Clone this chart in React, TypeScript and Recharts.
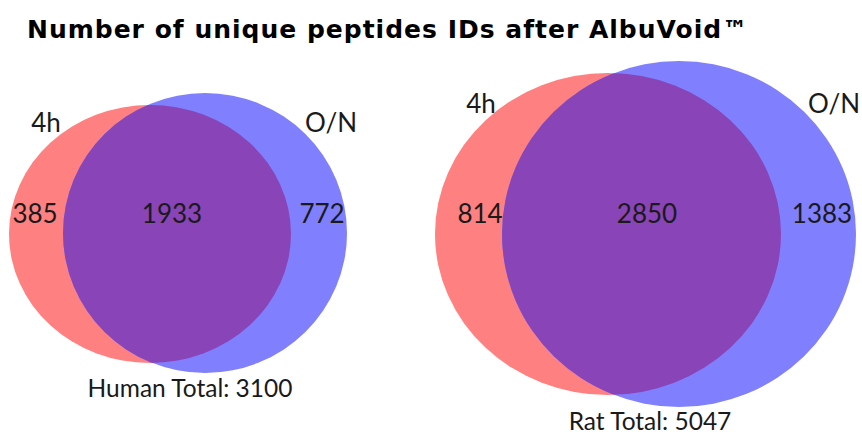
import React from "react";
import { ScatterChart, Scatter, XAxis, YAxis } from "recharts";

// data
const panels = ["Human", "Rat"];
const setNames = ["4h", "O/N"];
const only4h = [385, 814];
const shared = [1933, 2850];
const onlyON = [772, 1383];
const totals = [3100, 5047];

// layout (axes map 1 unit = 1 px)
const redShapes = [
  { x: 150, y: 234, rx: 141, ry: 129 },
  { x: 608, y: 234, rx: 173, ry: 161 },
];
const blueShapes = [
  { x: 205, y: 233, rx: 142, ry: 140 },
  { x: 679, y: 234, rx: 177, ry: 173 },
];
const nameSpots = [
  [{ x: 46, y: 132 }, { x: 331, y: 132 }],
  [{ x: 481, y: 113 }, { x: 834, y: 113 }],
];
const countSpots = [
  [{ x: 35, y: 223 }, { x: 172, y: 223 }, { x: 322, y: 223 }],
  [{ x: 480, y: 223 }, { x: 647, y: 223 }, { x: 822, y: 223 }],
];
const totalSpots = [
  { x: 190, y: 397 },
  { x: 650, y: 430 },
];

const RED = "#ff8080";
const BLUE = "#8080ff";
const PURPLE = "#8944b7";

const redData = redShapes.map((s, i) => ({ ...s, panel: panels[i] }));
const blueData = blueShapes.map((s, i) => ({ ...s, panel: panels[i] }));
const overlapData = redShapes.map((s, i) => ({
  ...s,
  panel: panels[i],
  bdx: blueShapes[i].x - s.x,
  bdy: blueShapes[i].y - s.y,
  brx: blueShapes[i].rx,
  bry: blueShapes[i].ry,
}));

const labelData: any[] = [];
panels.forEach((p, i) => {
  setNames.forEach((n, j) => {
    labelData.push({ ...nameSpots[i][j], text: n, size: 26 });
  });
  [only4h[i], shared[i], onlyON[i]].forEach((v, j) => {
    labelData.push({ ...countSpots[i][j], text: String(v), size: 26 });
  });
  labelData.push({
    ...totalSpots[i],
    text: `${p} Total: ${totals[i]}`,
    size: 24.5,
  });
});

const ellipseShape = (fill: string) => (props: any) => {
  const { cx, cy, payload } = props;
  return <ellipse cx={cx} cy={cy} rx={payload.rx} ry={payload.ry} fill={fill} />;
};

const OverlapShape = (props: any) => {
  const { cx, cy, payload } = props;
  const id = `clip-${payload.panel}`;
  return (
    <g>
      <defs>
        <clipPath id={id}>
          <ellipse
            cx={cx + payload.bdx}
            cy={cy + payload.bdy}
            rx={payload.brx}
            ry={payload.bry}
          />
        </clipPath>
      </defs>
      <ellipse
        cx={cx}
        cy={cy}
        rx={payload.rx}
        ry={payload.ry}
        fill={PURPLE}
        clipPath={`url(#${id})`}
      />
    </g>
  );
};

const TextShape = (props: any) => {
  const { cx, cy, payload } = props;
  return (
    <text
      x={cx}
      y={cy}
      textAnchor="middle"
      fontFamily="Lato, 'Open Sans', sans-serif"
      fontSize={payload.size}
      fill="#1a1a1a"
    >
      {payload.text}
    </text>
  );
};

export default function App() {
  return (
    <div
      style={{
        position: "absolute",
        left: 0,
        top: 0,
        width: 862,
        height: 435,
        background: "#fff",
      }}
    >
      <div
        style={{
          position: "absolute",
          left: 27,
          top: 15,
          fontFamily: "'DejaVu Sans', Verdana, sans-serif",
          fontWeight: "bold",
          fontSize: 25,
          letterSpacing: "1px",
          lineHeight: "30px",
          color: "#000",
          whiteSpace: "nowrap",
        }}
      >
        Number of unique peptides IDs after AlbuVoid™
      </div>
      <ScatterChart
        width={862}
        height={435}
        margin={{ top: 0, right: 0, bottom: 0, left: 0 }}
      >
        <XAxis type="number" dataKey="x" domain={[0, 862]} allowDataOverflow hide />
        <YAxis type="number" dataKey="y" domain={[0, 435]} allowDataOverflow reversed hide />
        <Scatter data={redData} shape={ellipseShape(RED)} isAnimationActive={false} />
        <Scatter data={blueData} shape={ellipseShape(BLUE)} isAnimationActive={false} />
        <Scatter data={overlapData} shape={OverlapShape} isAnimationActive={false} />
        <Scatter data={labelData} shape={TextShape} isAnimationActive={false} />
      </ScatterChart>
    </div>
  );
}
